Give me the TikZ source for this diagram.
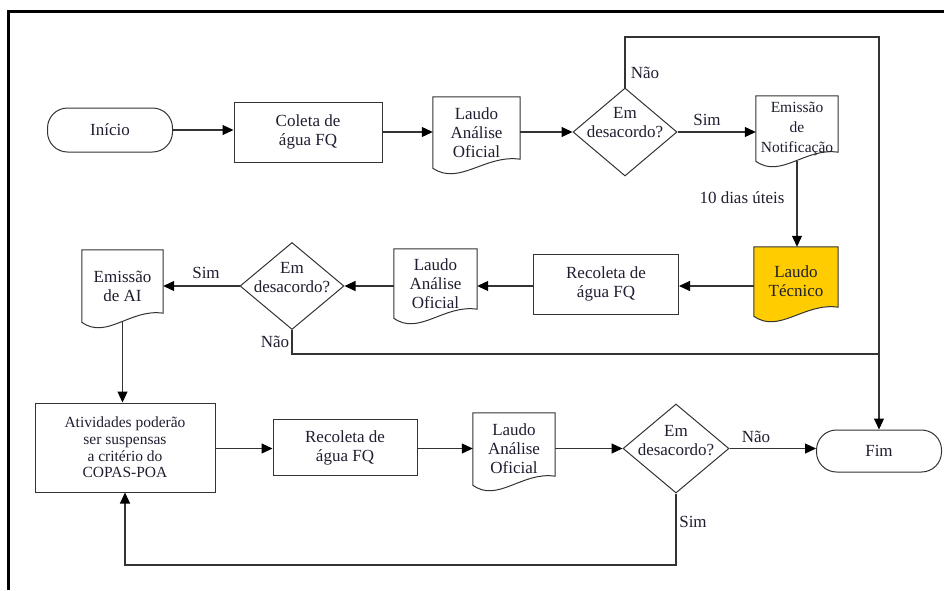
\documentclass[tikz,border=0pt]{standalone}
\usepackage{fontspec}
\setmainfont{Liberation Serif}
\usetikzlibrary{shapes.geometric,arrows.meta,calc,backgrounds}
\definecolor{ln}{HTML}{333333}
\definecolor{tx}{HTML}{1E1E30}
\definecolor{yel}{HTML}{FFCC00}
\newcommand\docoutline[2]{%
  \begin{scope}[on background layer]
  \draw[shapeline, fill=#2] (#1.south west) -- (#1.north west) -- (#1.north east) -- ([yshift=9pt]#1.south east)
    .. controls ($(#1.south west)!0.6!(#1.south east)+(0pt,14pt)$) and ($(#1.south west)!0.3!(#1.south east)+(0pt,-18pt)$) .. (#1.south west) -- cycle;
  \end{scope}}
\begin{document}
\begin{tikzpicture}[x=1pt,y=-1pt,
  every node/.style={text=tx, font=\fontsize{17}{19}\selectfont, align=center},
  shapeline/.style={draw=ln, line width=1pt},
  proc/.style={shapeline, rectangle, inner sep=0pt},
  term/.style={shapeline, rectangle, rounded corners=20pt, inner sep=0pt},
  docbox/.style={rectangle, inner sep=0pt},
  dec/.style={shapeline, diamond, inner sep=0pt},
  conn/.style={draw=ln, line width=1.1pt},
  arr/.style={conn, -{Triangle[length=11pt,width=10pt,fill=black,color=black]}},
  lbl/.style={inner sep=0pt}]
\useasboundingbox (0,0) rectangle (944,590);
% frame
\draw[line width=3.5pt, line join=miter] (944,11.5) -- (8.5,11.5) -- (8.5,590);

% row 1
\node[term, minimum width=125pt, minimum height=44pt] (inicio) at (110,130) {Início};
\node[proc, minimum width=148pt, minimum height=60pt] (coleta) at (308,132) {Coleta de\\água FQ};
\node[docbox, minimum width=87pt, minimum height=71pt] (laudo1) at (476.5,132.5) {Laudo\\Análise\\Oficial};
\docoutline{laudo1}{white}
\node[dec, minimum width=104pt, minimum height=88pt,
  label={[lbl, yshift=9pt]center:{Em\\desacordo?}}] (dec1) at (625,132) {};
\node[docbox, minimum width=82pt, minimum height=65pt, font=\fontsize{15.5}{20}\selectfont] (notif) at (797,128.5) {Emissão\\de\\Notificação};
\docoutline{notif}{white}

% row 2
\node[docbox, minimum width=84pt, minimum height=69pt] (tecnico) at (796,281.5) {Laudo\\Técnico};
\docoutline{tecnico}{yel}
\node[proc, minimum width=145pt, minimum height=60pt] (recoleta2) at (606,284) {Recoleta de\\água FQ};
\node[docbox, minimum width=83pt, minimum height=69pt] (laudo2) at (435.5,283.5) {Laudo\\Análise\\Oficial};
\docoutline{laudo2}{white}
\node[dec, minimum width=104pt, minimum height=87pt,
  label={[lbl, yshift=8pt]center:{Em\\desacordo?}}] (dec2) at (292,286) {};
\node[docbox, minimum width=81pt, minimum height=72pt] (emiAI) at (122.5,286) {Emissão\\de AI};
\docoutline{emiAI}{white}

% row 3
\node[proc, minimum width=180pt, minimum height=89pt, font=\fontsize{15.5}{16.7}\selectfont] (ativ) at (125,447.5) {Atividades poderão\\ser suspensas\\a critério do\\COPAS-POA};
\node[proc, minimum width=144pt, minimum height=56pt] (recoleta3) at (345,447.5) {Recoleta de\\água FQ};
\node[docbox, minimum width=82pt, minimum height=72pt] (laudo3) at (514,449) {Laudo\\Análise\\Oficial};
\docoutline{laudo3}{white}
\node[dec, minimum width=106pt, minimum height=89pt,
  label={[lbl, yshift=8pt]center:{Em\\desacordo?}}] (dec3) at (676,448.5) {};
\node[term, minimum width=125pt, minimum height=42pt] (fim) at (879,451) {Fim};

% helper coordinates
\coordinate (tr) at (879,37);
\coordinate (mr) at (879,354);
\coordinate (bl) at (125,565);

% row 1 connectors
\draw[arr] (inicio.east) -- (inicio.east -| coleta.west);
\draw[arr] (coleta.east |- dec1) -- (laudo1.west |- dec1);
\draw[arr] (laudo1.east |- dec1) -- (dec1.west);
\draw[arr] (dec1.east) -- (dec1.east -| notif.west);
\draw[arr] (dec1.north) |- (tr) -- (fim.north);
\draw[arr] (notif.south) -- (notif.south |- tecnico.north);

% row 2 connectors
\draw[arr] (tecnico.west |- dec2) -- (recoleta2.east |- dec2);
\draw[arr] (recoleta2.west |- dec2) -- (laudo2.east |- dec2);
\draw[arr] (laudo2.west |- dec2) -- (dec2.east);
\draw[arr] (dec2.west) -- (dec2.west -| emiAI.east);
\draw[conn] (dec2.south) |- (mr);
\draw[arr] (emiAI.south) -- (emiAI.south |- ativ.north);

% row 3 connectors
\draw[arr] (ativ.east |- dec3) -- (recoleta3.west |- dec3);
\draw[arr] (recoleta3.east |- dec3) -- (laudo3.west |- dec3);
\draw[arr] (laudo3.east |- dec3) -- (dec3.west);
\draw[arr] (dec3.east) -- (dec3.east -| fim.west);
\draw[arr] (dec3.south) |- (bl) -- (ativ.south);

% labels
\node[lbl] (nao1) at (645,73) {Não};
\node[lbl] (sim1) at (707,120) {Sim};
\node[lbl] (dias) at (742,198) {10 dias úteis};
\node[lbl] (sim2) at (206,273) {Sim};
\node[lbl] (nao2) at (275,342) {Não};
\node[lbl] (nao3) at (756,437) {Não};
\node[lbl] (sim3) at (693,522) {Sim};
\end{tikzpicture}
\end{document}
